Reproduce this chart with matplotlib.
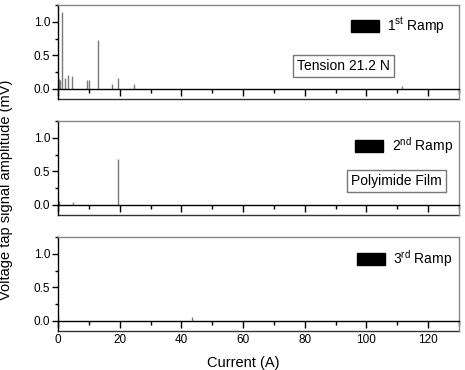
# three stacked panels of voltage tap signal spikes vs current, one per ramp

import matplotlib
matplotlib.use('Agg')
import matplotlib.pyplot as plt
from matplotlib.patches import Patch
from matplotlib.lines import Line2D
from matplotlib.ticker import MultipleLocator

plt.rcParams['font.family'] = ['Liberation Sans', 'DejaVu Sans']
plt.rcParams['mathtext.fontset'] = 'custom'
plt.rcParams['mathtext.rm'] = 'Liberation Sans'

# spike positions (A) and amplitudes (mV)
ramp1_current = [0.0, 0.3, 0.6, 1.4, 2.4, 3.3, 4.4, 9.3, 10.2, 13.1, 17.5, 19.5, 24.8, 111.5]
ramp1_amp = [0.16, 0.15, 0.13, 1.14, 0.17, 0.21, 0.19, 0.13, 0.13, 0.73, 0.07, 0.16, 0.08, 0.05]
ramp2_current = [0.2, 4.8, 19.5]
ramp2_amp = [0.06, 0.05, 0.68]
ramp3_current = [0.0, 43.3]
ramp3_amp = [0.06, 0.065]

ramp_labels = ['1$^{\\rm st}$ Ramp', '2$^{\\rm nd}$ Ramp', '3$^{\\rm rd}$ Ramp']
notes = ['Tension 21.2 N', 'Polyimide Film', None]
note_pos = [(0.713, 0.351), (0.845, 0.365), None]
legend_anchor = [(0.99, 0.99), (1.009, 0.95), (1.008, 0.985)]

data = [(ramp1_current, ramp1_amp), (ramp2_current, ramp2_amp), (ramp3_current, ramp3_amp)]

fig, axes = plt.subplots(3, 1, figsize=(4.65, 3.7), dpi=100)
fig.subplots_adjust(left=0.1247, right=0.987, top=0.9865, bottom=0.1054, hspace=0.234)

for i, (ax, (cur, amp)) in enumerate(zip(axes, data)):
    ax.vlines(cur, 0, amp, color='#7a7a7a', lw=1.0)
    ax.set_xlim(0, 130)
    ax.set_ylim(-0.15, 1.25)
    ax.set_yticks([0.0, 0.5, 1.0])
    ax.yaxis.set_minor_locator(MultipleLocator(0.25))
    ax.xaxis.set_major_locator(MultipleLocator(20))
    ax.xaxis.set_minor_locator(MultipleLocator(10))

    ax.spines['bottom'].set_position(('data', 0))
    ax.spines['bottom'].set_linewidth(1.0)
    ax.spines['left'].set_linewidth(1.0)
    for s in ['top', 'right']:
        ax.spines[s].set_color('#888888')
        ax.spines[s].set_linewidth(1.0)
    # closing frame line under the zero axis
    ax.add_line(Line2D([0, 1], [0, 0], transform=ax.transAxes, color='#333333',
                       lw=1.0, clip_on=False))

    ax.tick_params(axis='x', which='major', direction='out', length=5, width=1,
                   labelsize=8.5, pad=4.5)
    ax.tick_params(axis='x', which='minor', direction='out', length=3, width=1)
    ax.tick_params(axis='y', which='major', direction='out', length=4, width=1,
                   labelsize=8.5, pad=1.5)
    ax.tick_params(axis='y', which='minor', direction='out', length=2.5, width=1)
    if i < 2:
        ax.tick_params(axis='x', labelbottom=False)

    ax.legend(handles=[Patch(facecolor='black', edgecolor='black')], labels=[ramp_labels[i]],
              loc='upper right', bbox_to_anchor=legend_anchor[i], frameon=False,
              handlelength=2.0, handleheight=1.0, handletextpad=0.6, fontsize=10,
              borderaxespad=0.3)

    if notes[i]:
        ax.text(note_pos[i][0], note_pos[i][1], notes[i], transform=ax.transAxes,
                ha='center', va='center', fontsize=10,
                bbox=dict(boxstyle='square,pad=0.3', facecolor='white', edgecolor='#777777', lw=1))

fig.text(0.013, 0.486, 'Voltage tap signal amplitude (mV)', rotation=90,
         ha='center', va='center', fontsize=10.5)
fig.text(0.5226, 0.0197, 'Current (A)', ha='center', va='center', fontsize=10.5)

fig.savefig('out.png', dpi=100)
